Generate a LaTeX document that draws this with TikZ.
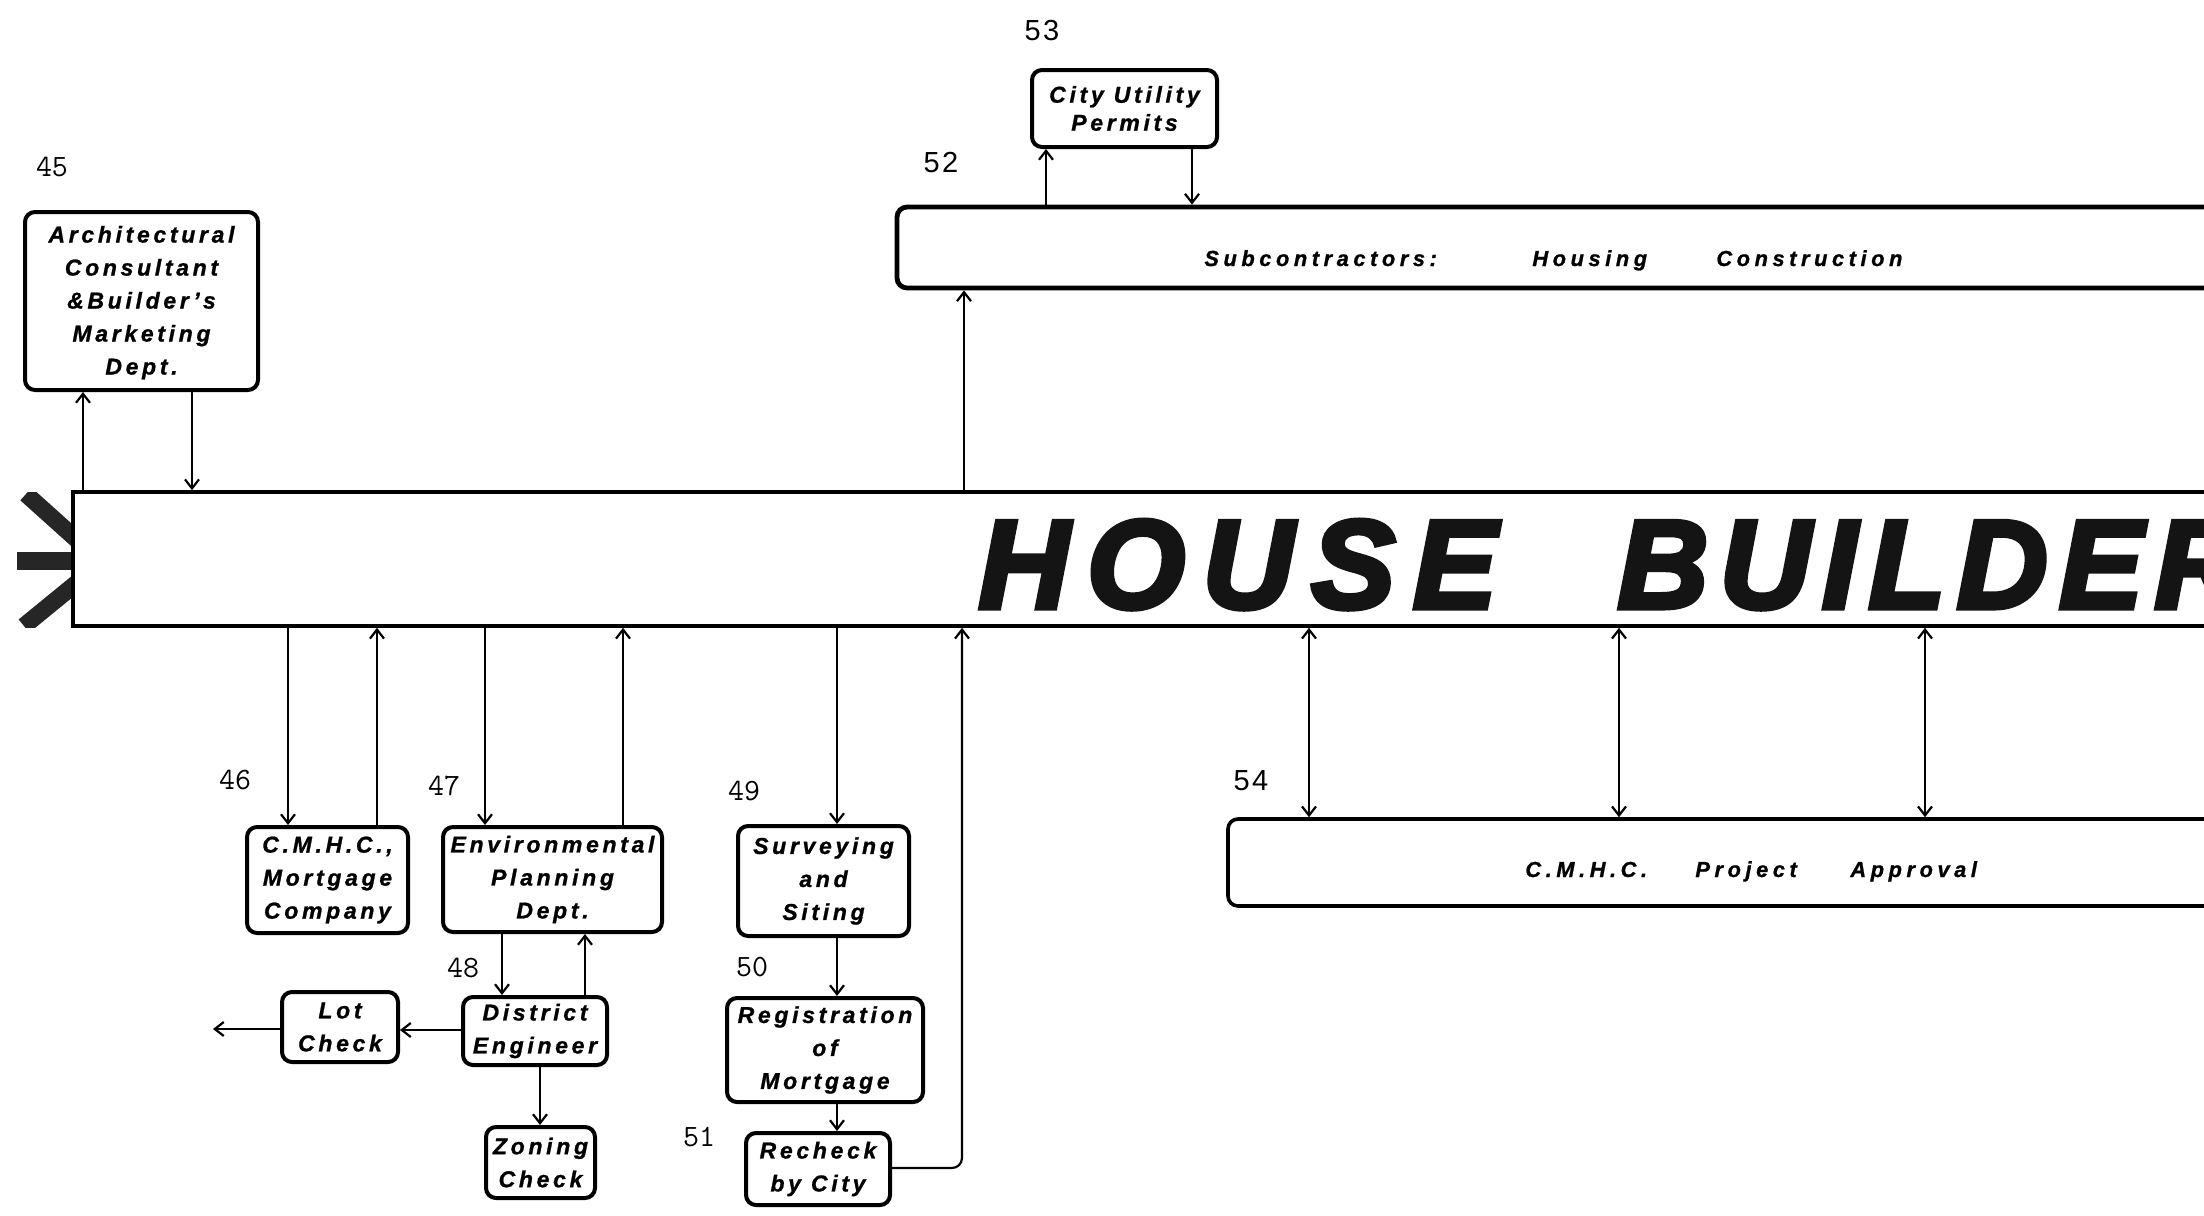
\documentclass[tikz,border=0pt]{standalone}
\usepackage{fontspec}
\setmainfont{Liberation Sans}
\newfontfamily\boxfont[LetterSpace=16,FakeBold=1]{Liberation Sans}
\newfontfamily\barfont[LetterSpace=21,FakeBold=1]{Liberation Sans}
\newfontfamily\bigfontA[LetterSpace=14,FakeBold=4]{Liberation Sans}
\newfontfamily\bigfontB[LetterSpace=9,FakeBold=4]{Liberation Sans}
\newfontfamily\numfont[LetterSpace=8]{Liberation Sans}
\usetikzlibrary{arrows.meta,fit}
\begin{document}
\begin{tikzpicture}[x=0.5pt,y=-0.5pt,
  box/.style={draw, line width=2pt, rounded corners=5pt, inner sep=0pt},
  boxtext/.style={inner sep=0pt, align=center,
    font=\boxfont\bfseries\itshape\fontsize{11.5}{16.5}\selectfont},
  barbox/.style={draw, line width=1.8pt, inner sep=0pt, fill=white},
  arr/.style={line width=1.1pt, -{Straight Barb[length=4.5pt,width=7pt]}},
  darr/.style={line width=1.1pt, {Straight Barb[length=4.5pt,width=7pt]}-{Straight Barb[length=4.5pt,width=7pt]}},
  barword/.style={anchor=base west, inner sep=0pt, font=\barfont\bfseries\itshape\fontsize{10.9}{12}\selectfont},
  bigwordA/.style={anchor=base west, inner sep=0pt, text=black!92, font=\bigfontA\bfseries\itshape\fontsize{63}{70}\selectfont},
  bigwordB/.style={anchor=base west, inner sep=0pt, text=black!92, font=\bigfontB\bfseries\itshape\fontsize{63}{70}\selectfont},
  tnum/.style={inner sep=0pt, font=\ttfamily\fontsize{15.5}{16}\selectfont},
  snum/.style={inner sep=0pt, font=\numfont\fontsize{14.5}{16}\selectfont},
]
\useasboundingbox (0,0) rectangle (2204,1215);
\fill[white] (0,0) rectangle (2204,1215);

% left chevron
\begin{scope}
  \clip (0,492) rectangle (74,627);
  \draw[line width=8.5pt, black!85] (26,494) -- (95,556);
  \draw[line width=8.5pt, black!85] (24,626) -- (95,568);
  \draw[line width=9pt, black!85] (17,561) -- (95,561);
\end{scope}

% bars
\node[barbox, fit={(73,492) (2300,626)}] (builder) {};
\node[barbox, line width=2.4pt, rounded corners=5pt, fit={(897,207) (2300,288)}] (sub) {};
\node[barbox, rounded corners=5pt, fit={(1228,819) (2300,906)}] (approval) {};

% big title
\node[bigwordA] (house) at (978,608) {HOUSE};
\node[bigwordB] (builderword) at (1617,608) {BUILDER};

% bar texts
\node[barword] (subw1) at (1204,266) {Subcontractors:};
\node[barword] (subw2) at (1532,266) {Housing};
\node[barword] (subw3) at (1716,266) {Construction};
\node[barword] (appw1) at (1525,877) {C.M.H.C.};
\node[barword] (appw2) at (1695,877) {Project};
\node[barword] (appw3) at (1850,877) {Approval};

% boxes
\node[box, fit={(25,212) (258,390)}] (arch) {};
\node[box, fit={(1032,70) (1217,147)}] (city) {};
\node[box, fit={(247,827) (408,933)}] (mort) {};
\node[box, fit={(443,827) (662,932)}] (env) {};
\node[box, fit={(463,997) (607,1065)}] (dist) {};
\node[box, fit={(282,992) (398,1062)}] (lot) {};
\node[box, fit={(486,1127) (595,1198)}] (zone) {};
\node[box, fit={(738,826) (909,936)}] (survey) {};
\node[box, fit={(727,998) (923,1102)}] (reg) {};
\node[box, fit={(746,1133) (890,1205)}] (recheck) {};

% box texts
\node[boxtext] (archt) at ([yshift=-0.8pt]arch.center) {Architectural\\Consultant\\\&Builder’s\\Marketing\\Dept.};
\node[boxtext, font=\boxfont\bfseries\itshape\fontsize{11.5}{14}\selectfont] (cityt) at (city.center) {City Utility\\Permits};
\node[boxtext] (mortt) at (mort.center) {C.M.H.C.,\\Mortgage\\Company};
\node[boxtext] (envt) at (env.center) {Environmental\\Planning\\Dept.};
\node[boxtext] (distt) at (dist.center) {District\\Engineer};
\node[boxtext] (lott) at (lot.center) {Lot\\Check};
\node[boxtext] (zonet) at (zone.center) {Zoning\\Check};
\node[boxtext] (surveyt) at (survey.center) {Surveying\\and\\Siting};
\node[boxtext] (regt) at (reg.center) {Registration\\of\\Mortgage};
\node[boxtext] (recheckt) at (recheck.center) {Recheck\\by City};

% numbers
\node[tnum] (n45) at (52,167) {45};
\node[tnum] (n46) at (235,780) {46};
\node[tnum] (n47) at (444,786) {47};
\node[tnum] (n48) at (463,968) {48};
\node[tnum] (n49) at (744,791) {49};
\node[tnum] (n50) at (752,967) {50};
\node[tnum] (n51) at (699,1137) {51};
\node[snum] (n52) at (941,163) {52};
\node[snum] (n53) at (1042,31) {53};
\node[snum] (n54) at (1251,781) {54};

% connectors
\draw[arr] (builder.north -| 83,0) -- (arch.south -| 83,0);
\draw[arr] (arch.south -| 192,0) -- (builder.north -| 192,0);
\draw[arr] (builder.north -| 964,0) -- (sub.south -| 964,0);
\draw[arr] (sub.north -| 1046,0) -- (city.south -| 1046,0);
\draw[arr] (city.south -| 1192,0) -- (sub.north -| 1192,0);

\draw[arr] (builder.south -| 288,0) -- (mort.north -| 288,0);
\draw[arr] (mort.north -| 377,0) -- (builder.south -| 377,0);
\draw[arr] (builder.south -| 485,0) -- (env.north -| 485,0);
\draw[arr] (env.north -| 623,0) -- (builder.south -| 623,0);
\draw[arr] (env.south -| 502,0) -- (dist.north -| 502,0);
\draw[arr] (dist.north -| 585,0) -- (env.south -| 585,0);
\draw[arr] (dist.west |- 0,1030) -- (lot.east |- 0,1030);
\coordinate (lotend) at (213,1029);
\draw[arr] (lot.west |- lotend) -- (lotend);
\draw[arr] (dist.south -| 540,0) -- (zone.north -| 540,0);

\draw[arr] (builder.south -| 837,0) -- (survey.north -| 837,0);
\draw[arr] (survey.south -| 837,0) -- (reg.north -| 837,0);
\draw[arr] (reg.south -| 837,0) -- (recheck.north -| 837,0);
\draw[arr, rounded corners=5pt] (recheck.east |- 0,1168) -| (builder.south -| 962,0);

\draw[darr] (builder.south -| 1309,0) -- (approval.north -| 1309,0);
\draw[darr] (builder.south -| 1619,0) -- (approval.north -| 1619,0);
\draw[darr] (builder.south -| 1925,0) -- (approval.north -| 1925,0);
\end{tikzpicture}
\end{document}
